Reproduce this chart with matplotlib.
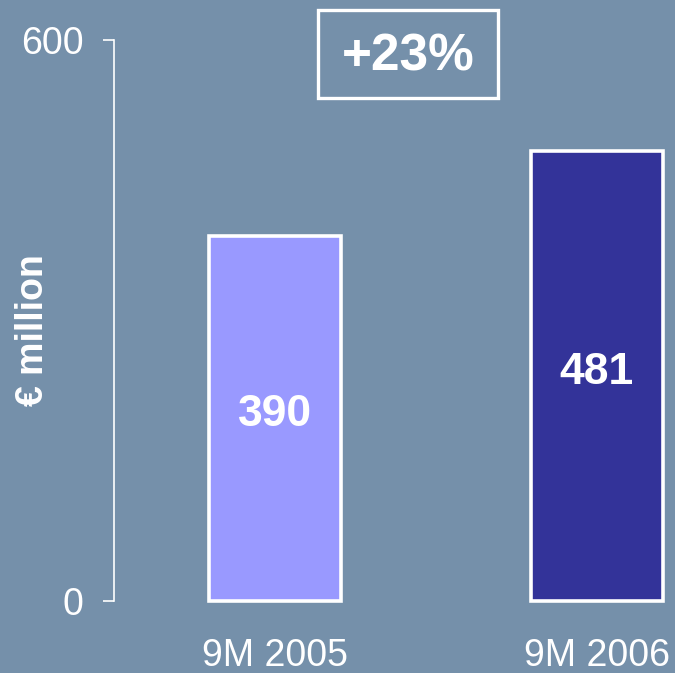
import matplotlib.pyplot as plt
from matplotlib.patches import Rectangle

plt.rcParams['font.family'] = ['Liberation Sans', 'DejaVu Sans']

periods = ['9M 2005', '9M 2006']
values = [390, 481]
bar_colors = ['#9999FF', '#333399']
growth_label = '+23%'

bg = '#7590AA'
fig = plt.figure(figsize=(6.75, 6.73), dpi=100, facecolor=bg)
ax = fig.add_axes([114 / 675, 72 / 673, 561 / 675, 561 / 673])
ax.set_facecolor(bg)

x = [0, 1]
bars = ax.bar(x, values, width=0.41, color=bar_colors, edgecolor='white',
              linewidth=2.6, clip_on=False)

for xi, v in zip(x, values):
    ax.text(xi, v / 2 + 4, str(v), ha='center', va='center', color='white',
            fontsize=32, fontweight='bold')
    ax.text(xi, -40, periods[xi], ha='center', va='top', color='white',
            fontsize=27)

ax.set_xlim(-0.5, -0.5 + 561 / 322)
ax.set_ylim(0, 600)
for s in ['top', 'right', 'bottom']:
    ax.spines[s].set_visible(False)
ax.spines['left'].set_color('white')
ax.spines['left'].set_linewidth(1.2)
ax.set_xticks([])
ax.set_yticks([0, 600])
ax.tick_params(axis='y', colors='white', length=8, width=1.2, pad=14,
               labelsize=27)

fig.text(33 / 675, 1 - 330 / 673, '€ million', rotation=90, ha='center',
         va='center', color='white', fontsize=27, fontweight='bold')

# growth box
fig.patches.append(Rectangle((318 / 675, 1 - 98 / 673), 180 / 675, 88 / 673,
                             transform=fig.transFigure, fill=False,
                             edgecolor='white', linewidth=2.4))
fig.text(408 / 675, 1 - 57 / 673, growth_label, ha='center', va='center',
         color='white', fontsize=37, fontweight='bold')

fig.savefig('out.png', dpi=100, facecolor=bg)
